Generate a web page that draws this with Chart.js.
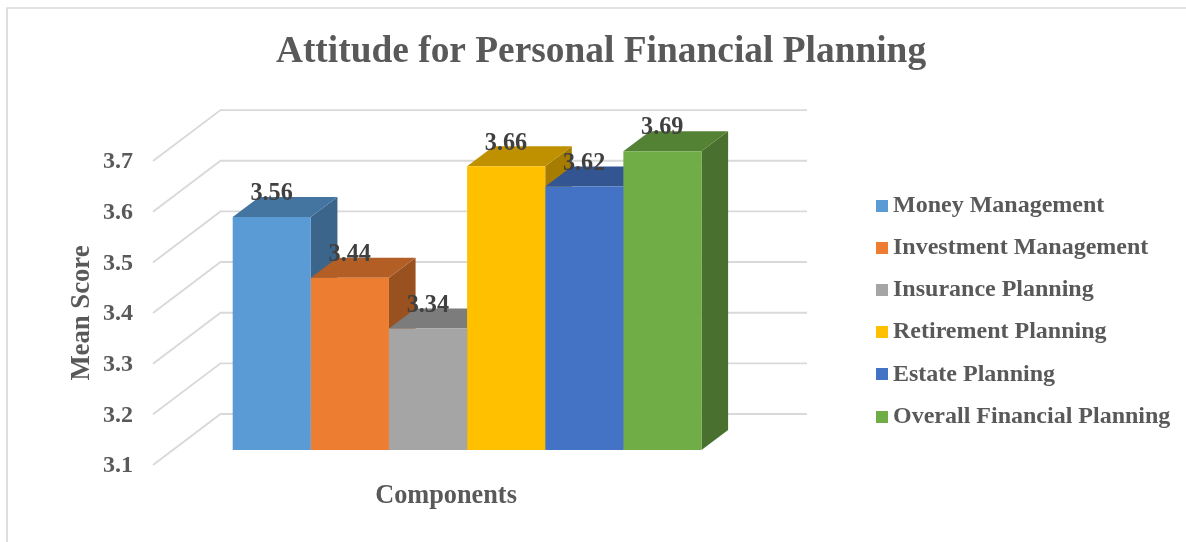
<!DOCTYPE html>
<html>
<head>
<meta charset="utf-8">
<title>Attitude for Personal Financial Planning</title>
<script src="https://cdn.jsdelivr.net/npm/chart.js@4/dist/chart.umd.min.js"></script>
<style>
  html, body { margin: 0; padding: 0; background: #ffffff; }
  canvas { display: block; }
</style>
</head>
<body>
<canvas id="chart" width="1186" height="542"></canvas>
<script>
// Values
const categoryLabels = ['Components'];
const seriesNames = ['Money Management', 'Investment Management', 'Insurance Planning',
  'Retirement Planning', 'Estate Planning', 'Overall Financial Planning'];
const meanScores = [3.56, 3.44, 3.34, 3.66, 3.62, 3.69];
const seriesColors = ['#5B9BD5', '#ED7D31', '#A5A5A5', '#FFC000', '#4472C4', '#70AD47'];
const axisMin = 3.1;
const axisMax = 3.7;
const axisStep = 0.1;

// Text styling
const SERIF = '"Liberation Serif", "Times New Roman", serif';
const TEXT_GREY = '#595959';
const LABEL_DARK = '#404040';
const GRID_GREY = '#D9D9D9';

// Projection of the 3D box: the wall sits behind the floor's front edge,
// the bars stand a little way in, and each bar has its own depth.
const WALL_DX = 67.5, WALL_DY = -51, WALL_RIGHT = 807;
const BAR_SHIFT_X = 21.1, BAR_SHIFT_Y = -15;
const BAR_DX = 26.6, BAR_DY = -20;
const TOP_SHADE = 0.75, SIDE_SHADE = 0.65;
const TICK_LABEL_DROP = 1.2;

function shade(hex, factor) {
  const n = parseInt(hex.slice(1), 16);
  const channel = (v) => Math.round(v * factor);
  return `rgb(${channel(n >> 16)},${channel((n >> 8) & 255)},${channel(n & 255)})`;
}

// Legend swatch as a small image so it can sit closer to its text than the default gap.
function swatch(color) {
  const c = document.createElement('canvas');
  c.width = 19;
  c.height = 12;
  const g = c.getContext('2d');
  g.fillStyle = color;
  g.fillRect(7, 0, 12, 12);
  return c;
}

const frameAndWalls = {
  id: 'frameAndWalls',
  beforeDraw(chart) {
    const { ctx } = chart;
    ctx.save();
    ctx.strokeStyle = GRID_GREY;
    ctx.lineWidth = 1.7;
    ctx.beginPath();
    ctx.moveTo(7, 542);
    ctx.lineTo(7, 8);
    ctx.lineTo(1186, 8);
    ctx.stroke();
    ctx.restore();

    // Tick labels sit slightly below the wall line ends
    const yScale = chart.scales.y;
    if (!yScale.baseDrawLabels) {
      yScale.baseDrawLabels = yScale.drawLabels;
      yScale.drawLabels = function (area) {
        this.ctx.save();
        this.ctx.translate(0, TICK_LABEL_DROP);
        this.baseDrawLabels(area);
        this.ctx.restore();
      };
    }
  },
  beforeDatasetsDraw(chart) {
    const { ctx, chartArea } = chart;
    const yScale = chart.scales.y;
    ctx.save();
    ctx.strokeStyle = GRID_GREY;
    ctx.lineWidth = 1.9;
    yScale.ticks.forEach((tick) => {
      const y = yScale.getPixelForValue(tick.value);
      ctx.beginPath();
      ctx.moveTo(chartArea.left, y);
      ctx.lineTo(chartArea.left + WALL_DX, y + WALL_DY);
      ctx.lineTo(WALL_RIGHT, y + WALL_DY);
      ctx.stroke();
    });
    ctx.restore();
  }
};

const barDepth = {
  id: 'barDepth',
  beforeDatasetsDraw(chart) {
    const { ctx } = chart;
    ctx.save();
    ctx.translate(BAR_SHIFT_X, BAR_SHIFT_Y);
    // Tops and sides go down left to right; the library then paints the front faces over them.
    chart.data.datasets.forEach((ds, i) => {
      const bar = chart.getDatasetMeta(i).data[0];
      const left = bar.x - bar.width / 2;
      const right = bar.x + bar.width / 2;
      ctx.fillStyle = shade(seriesColors[i], SIDE_SHADE);
      ctx.beginPath();
      ctx.moveTo(right, bar.y);
      ctx.lineTo(right + BAR_DX, bar.y + BAR_DY);
      ctx.lineTo(right + BAR_DX, bar.base + BAR_DY);
      ctx.lineTo(right, bar.base);
      ctx.closePath();
      ctx.fill();
      ctx.fillStyle = shade(seriesColors[i], TOP_SHADE);
      ctx.beginPath();
      ctx.moveTo(left, bar.y);
      ctx.lineTo(left + BAR_DX, bar.y + BAR_DY);
      ctx.lineTo(right + BAR_DX, bar.y + BAR_DY);
      ctx.lineTo(right, bar.y);
      ctx.closePath();
      ctx.fill();
    });
  },
  afterDatasetsDraw(chart) {
    const { ctx } = chart;
    ctx.restore();
    // Value labels above each bar
    ctx.save();
    ctx.font = `bold 24.2px ${SERIF}`;
    ctx.fillStyle = LABEL_DARK;
    ctx.textAlign = 'center';
    ctx.textBaseline = 'middle';
    chart.data.datasets.forEach((ds, i) => {
      const bar = chart.getDatasetMeta(i).data[0];
      ctx.fillText(ds.data[0].toFixed(2), bar.x + BAR_SHIFT_X - 0.2, bar.y + BAR_SHIFT_Y - 23);
    });
    ctx.restore();
  }
};

// Reserves the left part of the right-hand column for the wall, then places the legend.
const legendPlacement = {
  id: 'legendPlacement',
  beforeLayout(chart) {
    const legend = chart.legend;
    if (!legend.baseFit) {
      legend.baseFit = legend.fit;
      legend.fit = function () {
        this.baseFit();
        this.width = 447;
      };
    }
  },
  afterLayout(chart) {
    const legend = chart.legend;
    legend.left = 857.8;
    legend.right = 1186;
    legend.top = 175.4;
    legend.bottom = 542;
  }
};

new Chart(document.getElementById('chart'), {
  type: 'bar',
  data: {
    labels: categoryLabels,
    datasets: seriesNames.map((name, i) => ({
      label: name,
      data: [meanScores[i]],
      base: axisMin,
      backgroundColor: seriesColors[i],
      borderWidth: 0
    }))
  },
  options: {
    responsive: false,
    animation: false,
    categoryPercentage: 0.8,
    barPercentage: 1,
    layout: { padding: { left: 16, right: 0, top: 0, bottom: 20 } },
    plugins: {
      tooltip: { enabled: false },
      title: {
        display: true,
        text: 'Attitude for Personal Financial Planning',
        color: TEXT_GREY,
        font: { family: SERIF, size: 37.4, weight: 'bold' },
        padding: { top: 30, bottom: 86.2 }
      },
      legend: {
        position: 'right',
        align: 'start',
        labels: {
          color: TEXT_GREY,
          font: { family: SERIF, size: 24, weight: 'bold' },
          usePointStyle: true,
          pointStyleWidth: 5,
          boxHeight: 12,
          padding: 18.2,
          generateLabels(chart) {
            return Chart.defaults.plugins.legend.labels.generateLabels(chart).map((item, i) => {
              item.pointStyle = swatch(seriesColors[i]);
              return item;
            });
          }
        }
      }
    },
    scales: {
      x: {
        grid: { display: false },
        border: { display: false },
        ticks: { display: false },
        title: {
          display: true,
          text: 'Components',
          color: TEXT_GREY,
          font: { family: SERIF, size: 26.3, weight: 'bold' },
          padding: { top: 0, bottom: 10 }
        },
        afterFit(scale) { scale.height = 57; }
      },
      y: {
        min: axisMin,
        max: axisMax,
        grid: { display: false, drawTicks: false },
        border: { display: false },
        ticks: {
          stepSize: axisStep,
          color: TEXT_GREY,
          padding: 20,
          font: { family: SERIF, size: 24, weight: 'bold' },
          callback: (value) => Number(value).toFixed(1)
        },
        title: {
          display: true,
          text: 'Mean Score',
          color: TEXT_GREY,
          font: { family: SERIF, size: 26.7, weight: 'bold' },
          padding: { top: 50, bottom: 0 }
        },
        afterFit(scale) { scale.width = 137; }
      }
    }
  },
  plugins: [frameAndWalls, barDepth, legendPlacement]
});
</script>
</body>
</html>
